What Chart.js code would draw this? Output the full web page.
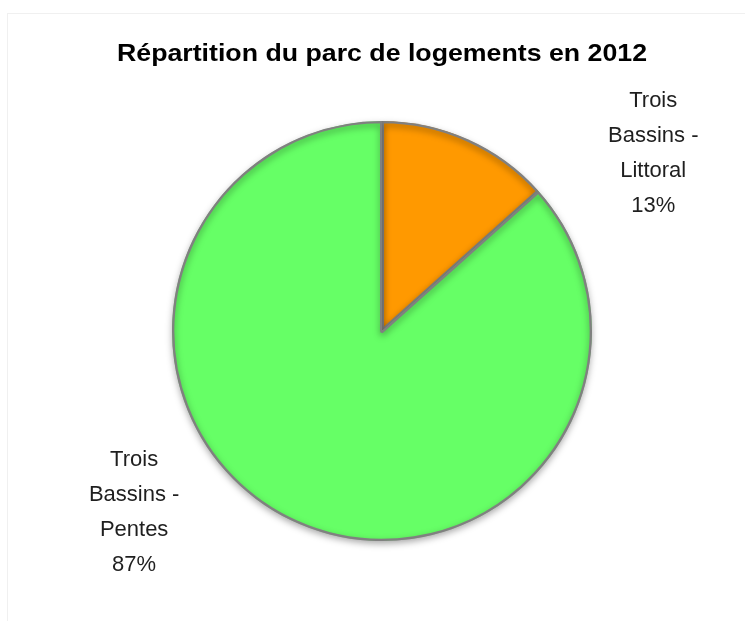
<!DOCTYPE html>
<html>
<head>
<meta charset="utf-8">
<script src="https://cdn.jsdelivr.net/npm/chart.js@4.4.1/dist/chart.umd.min.js"></script>
<style>
  html, body { margin: 0; padding: 0; background: #fff; }
  #wrap { width: 745px; height: 621px; }
</style>
</head>
<body>
<div id="wrap"><canvas id="pie" width="745" height="621"></canvas></div>
<script>
// data
var categories = ['Trois Bassins - Littoral', 'Trois Bassins - Pentes'];
var labelLines = [['Trois', 'Bassins -', 'Littoral'], ['Trois', 'Bassins -', 'Pentes']];
var shares = [13.4, 86.6];
var titleText = 'Répartition du parc de logements en 2012';

var sliceColors = ['#ff9900', '#66ff66'];

// where each label block sits: angle from 12 o'clock (clockwise) and distance in radii
var labelPlace = [
    { angle: 56.6, dist: 1.547 },
    { angle: 234, dist: 1.459 }
];

// faint frame behind the chart
var framePlugin = {
    id: 'frame',
    beforeDraw: function(c) {
        var ctx = c.ctx;
        ctx.save();
        ctx.fillStyle = '#ffffff';
        ctx.fillRect(0, 0, c.width, c.height);
        ctx.strokeStyle = '#f0f0f0';
        ctx.lineWidth = 1;
        ctx.strokeRect(7.5, 13.5, c.width, c.height);
        ctx.restore();
    }
};

// title, stretched to the width it has in the picture
var titlePlugin = {
    id: 'wideTitle',
    afterDraw: function(c) {
        var ctx = c.ctx;
        ctx.save();
        ctx.font = 'bold 24px Arial, "Liberation Sans", sans-serif';
        ctx.fillStyle = '#000';
        ctx.textAlign = 'center';
        ctx.textBaseline = 'alphabetic';
        var w = ctx.measureText(titleText).width;
        var sx = Math.max(1, 530 / w);
        var cx = (c.chartArea.left + c.chartArea.right) / 2;
        ctx.translate(cx, 61);
        ctx.scale(sx, 1);
        ctx.fillText(titleText, 0, 0);
        ctx.restore();
    }
};

// soft shadow under the pie
var shadowPlugin = {
    id: 'pieShadow',
    beforeDatasetDraw: function(c) {
        var ctx = c.ctx;
        ctx.save();
        ctx.shadowColor = 'rgba(0,0,0,0.35)';
        ctx.shadowBlur = 7;
        ctx.shadowOffsetY = 3;
    },
    afterDatasetDraw: function(c) {
        c.ctx.restore();
    }
};

// outside labels with percentage
var outLabels = {
    id: 'outLabels',
    afterDatasetsDraw: function(c) {
        var ctx = c.ctx;
        var meta = c.getDatasetMeta(0);
        var total = shares.reduce(function(a, b) { return a + b; }, 0);
        ctx.save();
        ctx.font = '22px Arial, "Liberation Sans", sans-serif';
        ctx.fillStyle = '#1f1f1f';
        ctx.textAlign = 'center';
        ctx.textBaseline = 'middle';
        meta.data.forEach(function(arc, i) {
            var p = labelPlace[i];
            var a = p.angle * Math.PI / 180;
            var r = arc.outerRadius * p.dist;
            var cx = arc.x + Math.sin(a) * r;
            var cy = arc.y - Math.cos(a) * r;
            var lines = labelLines[i].concat([Math.round(shares[i] / total * 100) + '%']);
            var lh = 35;
            var y0 = cy - (lines.length - 1) * lh / 2 + 1;
            lines.forEach(function(t, k) {
                ctx.fillText(t, cx, y0 + k * lh);
            });
        });
        ctx.restore();
    }
};

var ctx = document.getElementById('pie').getContext('2d');
new Chart(ctx, {
    type: 'pie',
    data: {
        labels: categories,
        datasets: [{
            data: shares,
            backgroundColor: sliceColors,
            borderColor: '#808080',
            borderWidth: 2,
            borderAlign: 'inner'
        }]
    },
    options: {
        responsive: false,
        animation: false,
        rotation: 0,
        layout: {
            padding: { left: 172, right: 153, top: 121, bottom: 80 }
        },
        plugins: {
            legend: { display: false },
            tooltip: { enabled: false },
            title: { display: false }
        }
    },
    plugins: [framePlugin, shadowPlugin, outLabels, titlePlugin]
});
</script>
</body>
</html>
